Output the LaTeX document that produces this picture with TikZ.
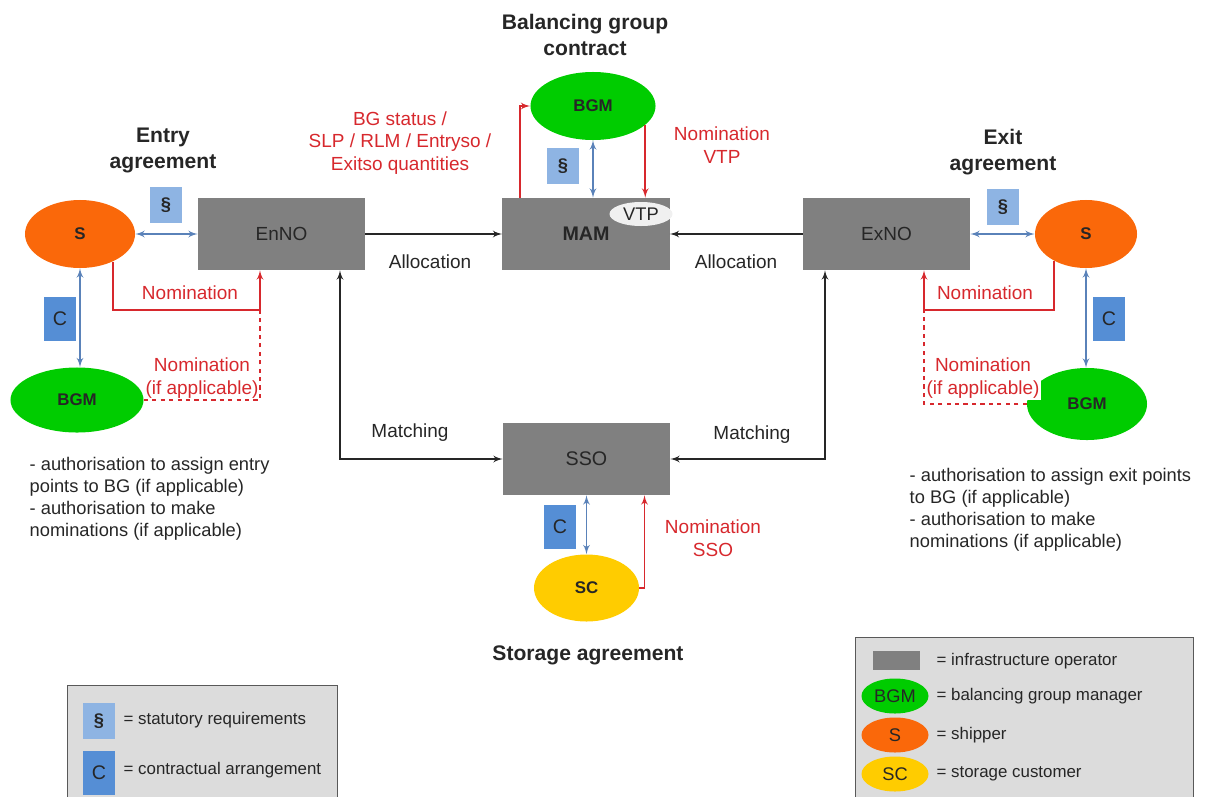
\documentclass[tikz,border=0pt]{standalone}
\usepackage{fontspec}
\setmainfont{Liberation Sans}
\usepackage{tikz}
\usetikzlibrary{arrows}
\usetikzlibrary{calc}
\usetikzlibrary{shapes.geometric}

\definecolor{opgray}{RGB}{128,128,128}
\definecolor{bgmgreen}{RGB}{0,204,0}
\definecolor{shipperorange}{RGB}{250,104,10}
\definecolor{scyellow}{RGB}{255,204,0}
\definecolor{statblue}{RGB}{142,180,227}
\definecolor{contrblue}{RGB}{85,142,213}
\definecolor{linkblue}{RGB}{90,130,185}
\definecolor{nomred}{RGB}{215,40,45}
\definecolor{legendgray}{RGB}{220,220,220}

\begin{document}
\begin{tikzpicture}[x=0.025cm, y=-0.025cm,
    every node/.style={font=\fontsize{13.5}{16}\selectfont, inner sep=1pt, text=black!85},
    opbox/.style={fill=opgray, minimum width=4.175cm, minimum height=1.8cm},
    party/.style={ellipse, inner sep=0pt, font=\fontsize{12}{14}\selectfont\bfseries},
    statbox/.style={fill=statblue, minimum width=0.8cm, minimum height=0.92cm, font=\fontsize{13}{15}\selectfont\bfseries},
    contrbox/.style={fill=contrblue, minimum width=0.82cm, minimum height=1.1cm, font=\fontsize{14}{16}\selectfont},
    title/.style={align=center, font=\fontsize{15}{18.5}\selectfont\bfseries},
    redlbl/.style={align=center, text=nomred},
    note/.style={anchor=north west, align=left, font=\fontsize{13}{15.6}\selectfont},
    link/.style={linkblue, line width=1.3pt, latex'-latex'},
    nom/.style={nomred, line width=1.3pt, -latex'},
    flow/.style={black!85, line width=1.3pt, -latex'},
    legtext/.style={anchor=west, font=\fontsize{12}{14}\selectfont}
  ]
    \useasboundingbox (0,0) rectangle (1208,796);
    \clip (0,0) rectangle (1208,796);

    \node[opbox] (enno) at (281.5,234) {EnNO};
    \node[opbox, font=\fontsize{14}{16}\selectfont\bfseries] (mam) at (586,234) {MAM};
    \node[opbox] (exno) at (886.5,234) {ExNO};
    \node[opbox, font=\fontsize{14}{16}\selectfont] (sso) at (586.5,459) {SSO};
    \node[ellipse, fill=black!6, inner sep=0pt, minimum width=1.575cm, minimum height=0.6cm,
      font=\fontsize{13}{15}\selectfont] (vtp) at (641,214) {VTP};

    \node[party, fill=bgmgreen, minimum width=3.125cm, minimum height=1.7cm] (bgmT) at (593,106) {BGM};
    \node[party, fill=shipperorange, minimum width=2.75cm, minimum height=1.7cm] (sL) at (80,234) {S};
    \node[party, fill=bgmgreen, minimum width=3.325cm, minimum height=1.625cm] (bgmL) at (77,400) {BGM};
    \node[party, fill=shipperorange, minimum width=2.55cm, minimum height=1.7cm] (sR) at (1086,234) {S};
    \node[party, fill=bgmgreen, minimum width=3cm, minimum height=1.8cm] (bgmR) at (1087,404) {BGM};
    \node[party, fill=scyellow, minimum width=2.625cm, minimum height=1.675cm] (sc) at (586.5,588) {SC};

    \node[statbox] (statL) at (166,205) {§};
    \node[statbox] (statR) at (1003,207) {§};
    \node[statbox] (statT) at (563,166) {§};
    \node[contrbox] (contrL) at (60,319) {C};
    \node[contrbox] (contrR) at (1109,319) {C};
    \node[contrbox] (contrS) at (560,527) {C};

    \node[title] (entrytitle) at (163,150) {Entry\\agreement};
    \node[title] (exittitle) at (1003,152) {Exit\\agreement};
    \node[title] (bgtitle) at (585,35) {Balancing group\\contract};
    \node[title] (storagetitle) at (588,655) {Storage agreement};

    \draw[flow] (enno.east) -- (mam.west);
    \draw[flow] (exno.west) -- (mam.east);
    \node (allocL) at (430,262) {Allocation};
    \node (allocR) at (736,262) {Allocation};

    \coordinate (matchL) at (340,459);
    \coordinate (matchR) at (825,459);
    \draw[flow, latex'-latex'] (enno.south -| matchL) |- (sso.west);
    \draw[flow, latex'-latex'] (exno.south -| matchR) |- (sso.east);
    \node (matchLlbl) at (410,433) {Matching};
    \node (matchRlbl) at (752,435) {Matching};

    \draw[link] (sL.east) -- (enno.west);
    \draw[link] (exno.east) -- (sR.west);
    \draw[link] (sL.south) -- (sL.south |- bgmL.north);
    \draw[link] (sR.south) -- (sR.south |- bgmR.north);
    \draw[link] (bgmT.south) -- (bgmT.south |- mam.north);
    \draw[link] (sso.south) -- (sc.north);

    \coordinate (nomL) at (260,310);
    \coordinate (nomR) at (924,310);
    \draw[nom] (sL.-40) |- (nomL) -- (nomL |- enno.south);
    \draw[nomred, line width=1.2pt, dashed] (bgmL.east) -| (nomL);
    \draw[nom] (sR.-140) |- (nomR) -- (nomR |- exno.south);
    \draw[nomred, line width=1.2pt, dashed] (bgmR.west) -| (nomR);
    \draw[nom] ($(mam.north west)+(18,0)$) |- (bgmT.west);
    \draw[nom] (bgmT.-20) -- (bgmT.-20 |- mam.north);
    \draw[nom] (sc.east) -| ($(sso.south)+(58,0)$);

    \node[redlbl] (nomLlbl) at (190,293) {Nomination};
    \node[redlbl] (nomLopt) at (202,378) {Nomination\\(if applicable)};
    \node[redlbl] (nomRlbl) at (985,293) {Nomination};
    \node[redlbl, fill=white] (nomRopt) at (983,378) {Nomination\\(if applicable)};
    \node[redlbl] (bgstatus) at (400,143) {BG status /\\SLP / RLM / Entryso /\\Exitso quantities};
    \node[redlbl] (nomvtp) at (722,145) {Nomination\\VTP};
    \node[redlbl] (nomsso) at (713,538) {Nomination\\SSO};

    \node[note] (entrynote) at (28,456) {- authorisation to assign entry\\points to BG (if applicable)\\- authorisation to make\\nominations (if applicable)};
    \node[note] (exitnote) at (908,467) {- authorisation to assign exit points\\to BG (if applicable)\\- authorisation to make\\nominations (if applicable)};

    \draw[black!65, fill=legendgray] (67,685) rectangle (337,810);
    \node[statbox] (legstat) at (99,721) {§};
    \node[legtext] (legstat-txt) at (122,720) {= statutory requirements};
    \node[contrbox] (legcontr) at (99,773) {C};
    \node[legtext] (legcontr-txt) at (122,770) {= contractual arrangement};

    \draw[black!65, fill=legendgray] (855,637) rectangle (1193,810);
    \node[opbox, minimum width=1.175cm, minimum height=0.475cm] (legop) at (896,660) {};
    \node[legtext] (legop-txt) at (935,661) {= infrastructure operator};
    \foreach \name/\y/\col/\abbr/\desc in {legbgm/696/bgmgreen/BGM/balancing group manager,
        legs/735/shipperorange/S/shipper, legsc/774/scyellow/SC/storage customer}{
      \node[party, fill=\col, minimum width=1.675cm, minimum height=0.875cm,
        font=\fontsize{13}{15}\selectfont] (\name) at (895,\y) {\abbr};
      \node[legtext] (\name-txt) at (935,\y) {= \desc};
    }
\end{tikzpicture}
\end{document}
